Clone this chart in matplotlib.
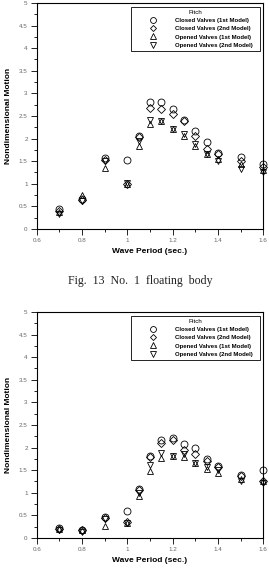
import matplotlib.pyplot as plt
from matplotlib.ticker import MultipleLocator, FuncFormatter

plt.rcParams["font.family"] = ["Liberation Sans", "DejaVu Sans"]

# wave periods (sec.)
periods = [0.7, 0.8, 0.9, 1.0, 1.05, 1.1, 1.15, 1.2, 1.25, 1.3, 1.35, 1.4, 1.5, 1.6]

# No. 1 floating body - pitch
body1_closed_1st = [0.45, 0.66, 1.56, 1.53, 2.06, 2.82, 2.80, 2.65, 2.40, 2.16, 1.93, 1.68, 1.60, 1.44]
body1_closed_2nd = [0.40, 0.64, 1.53, 1.00, 2.03, 2.68, 2.65, 2.55, 2.38, 2.05, 1.78, 1.65, 1.50, 1.38]
body1_opened_1st = [0.38, 0.75, 1.35, 1.00, 1.83, 2.32, 2.38, 2.22, 2.06, 1.83, 1.66, 1.55, 1.43, 1.31]
body1_opened_2nd = [0.33, 0.61, 1.50, 1.02, 1.95, 2.42, 2.38, 2.22, 2.10, 1.88, 1.66, 1.50, 1.33, 1.25]

# second floating body - pitch
body2_closed_1st = [0.23, 0.18, 0.46, 0.59, 1.08, 1.82, 2.17, 2.22, 2.08, 1.98, 1.75, 1.60, 1.40, 1.50]
body2_closed_2nd = [0.21, 0.17, 0.44, 0.35, 1.06, 1.79, 2.10, 2.17, 1.95, 1.85, 1.70, 1.57, 1.38, 1.27]
body2_opened_1st = [0.21, 0.17, 0.26, 0.33, 0.93, 1.48, 1.78, 1.82, 1.80, 1.67, 1.52, 1.43, 1.30, 1.27]
body2_opened_2nd = [0.18, 0.14, 0.42, 0.33, 1.00, 1.61, 1.88, 1.82, 1.85, 1.67, 1.57, 1.50, 1.27, 1.22]

labels = ["Closed Valves (1st Model)", "Closed Valves (2nd Model)",
          "Opened Valves (1st Model)", "Opened Valves (2nd Model)"]
markers = ["o", "D", "^", "v"]
sizes = [5.0, 3.6, 4.4, 4.4]

fig = plt.figure(figsize=(2.69, 5.71), dpi=100)
ax_top = fig.add_axes([0.1364, 0.599, 0.842, 0.3958])
ax_bot = fig.add_axes([0.1364, 0.0578, 0.842, 0.3958])


def draw_panel(ax, series):
    for vals, lab, mk, ms in zip(series, labels, markers, sizes):
        ax.plot(periods, vals, linestyle="none", marker=mk, markersize=ms,
                markerfacecolor="none", markeredgecolor="black",
                markeredgewidth=0.6, label=lab, clip_on=False)
    ax.set_xlim(0.6, 1.6)
    ax.set_ylim(0, 5)
    ax.xaxis.set_major_locator(MultipleLocator(0.2))
    ax.xaxis.set_minor_locator(MultipleLocator(0.1))
    ax.yaxis.set_major_locator(MultipleLocator(0.5))
    ax.yaxis.set_minor_locator(MultipleLocator(0.25))
    fmt = FuncFormatter(lambda v, p: "%g" % round(v, 2))
    ax.xaxis.set_major_formatter(fmt)
    ax.yaxis.set_major_formatter(fmt)
    ax.tick_params(which="major", length=4, width=0.6, labelsize=4.5,
                   labelcolor="#666666", pad=2.5, direction="out")
    ax.tick_params(which="minor", length=2.5, width=0.6, direction="out")
    for sp in ax.spines.values():
        sp.set_linewidth(0.8)
    ax.set_xlabel("Wave Period (sec.)", fontsize=6, fontweight="bold", labelpad=3.5)
    ax.set_ylabel("Nondimensional Motion", fontsize=6, fontweight="bold", labelpad=5)
    leg = ax.legend(loc="upper left", bbox_to_anchor=(0.416, 0.765, 0.569, 0.217),
                    mode="expand", borderaxespad=0, title="Pitch",
                    fontsize=4.3, title_fontsize=4.5, fancybox=False,
                    edgecolor="black", framealpha=1, handletextpad=0.4,
                    labelspacing=0.5, borderpad=0.5, handlelength=6.5,
                    numpoints=1, markerscale=0.85)
    leg.get_frame().set_linewidth(0.6)
    for t in leg.get_texts():
        t.set_fontweight("bold")


draw_panel(ax_top, [body1_closed_1st, body1_closed_2nd, body1_opened_1st, body1_opened_2nd])
draw_panel(ax_bot, [body2_closed_1st, body2_closed_2nd, body2_opened_1st, body2_opened_2nd])

fig.text(0.52, 1 - 281 / 571, "Fig.  13  No.  1  floating  body", ha="center", va="center",
         fontsize=8.6, family="Liberation Serif", color="#222222")

fig.savefig("out.png", dpi=100)
